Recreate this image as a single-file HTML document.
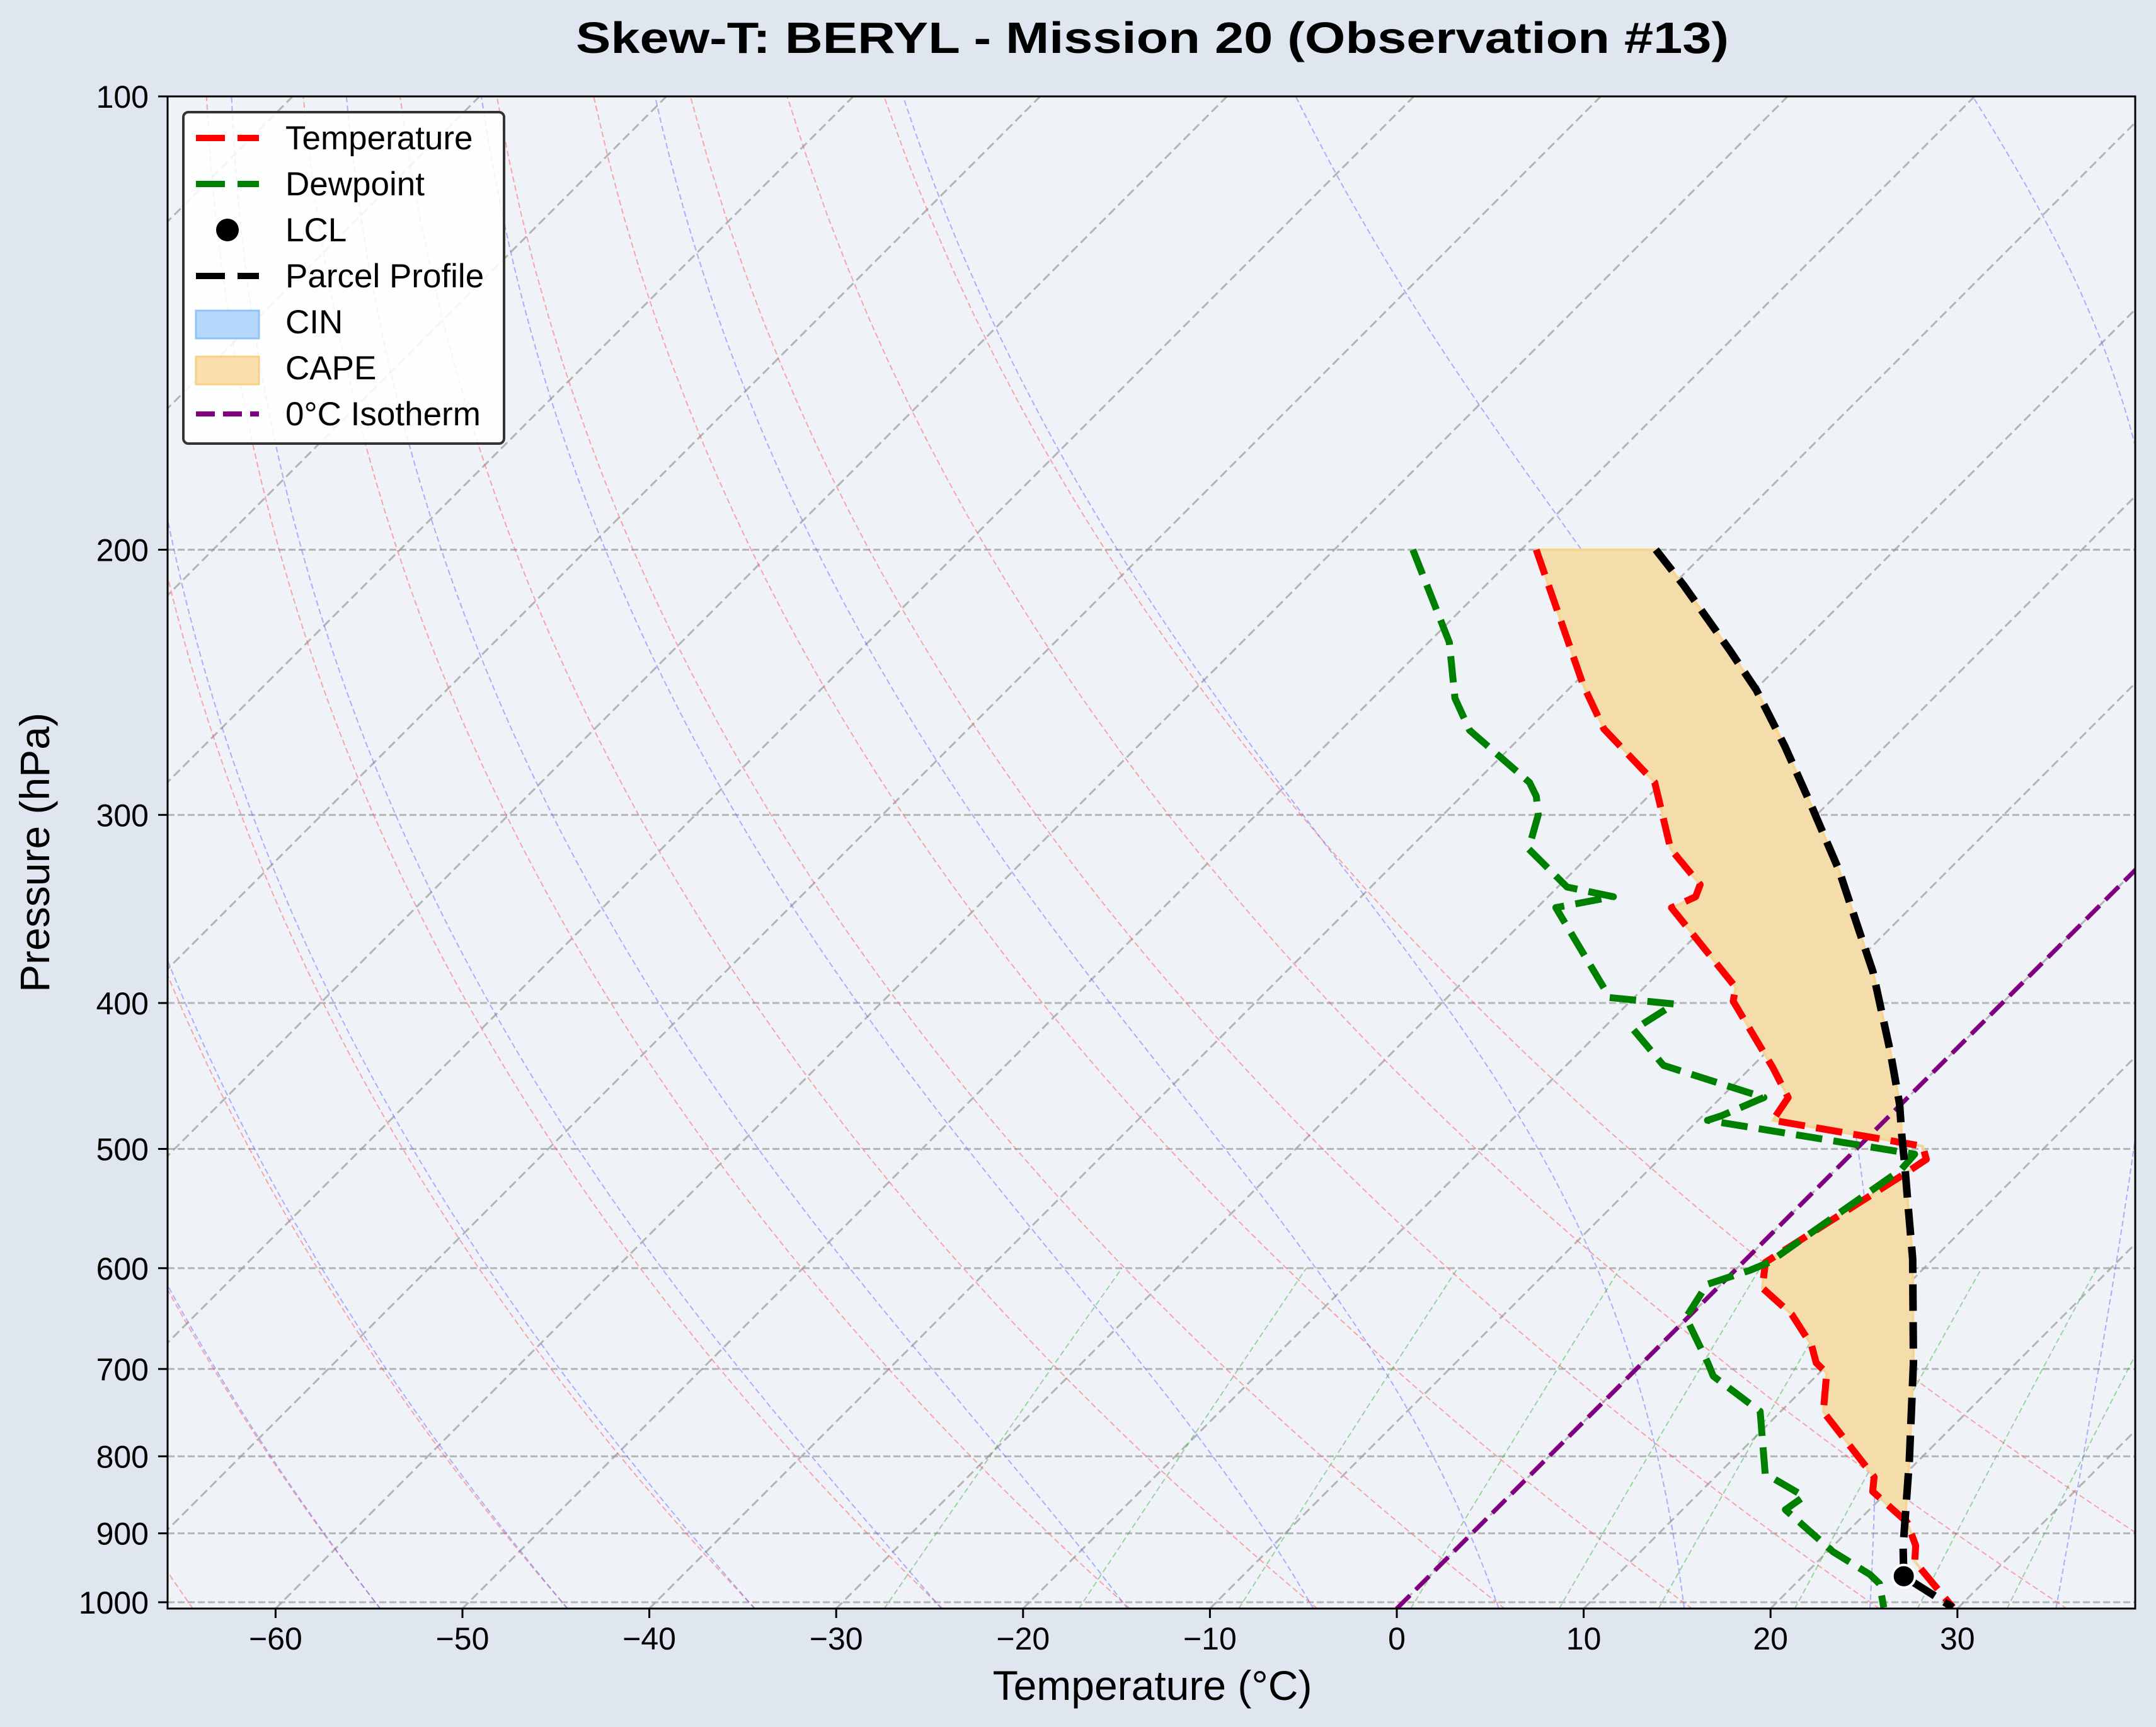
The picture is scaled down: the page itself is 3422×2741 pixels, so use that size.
<!DOCTYPE html>
<html><head><meta charset="utf-8"><style>
html,body{margin:0;padding:0;background:#dfe6f0;}
svg{display:block;font-family:"Liberation Sans",sans-serif;}
</style></head><body>
<svg id="chart" width="3422" height="2741" viewBox="0 0 3422 2741" xmlns="http://www.w3.org/2000/svg">
<rect x="0" y="0" width="3422" height="2741" fill="#dfe6f0"/>
<defs><clipPath id="pc"><rect x="266" y="153" width="3123" height="2400"/></clipPath></defs>
<rect x="266" y="153" width="3123" height="2400" fill="#eff3f8"/>
<g id="bg" clip-path="url(#pc)"></g>
<g id="fg" clip-path="url(#pc)"></g>
<rect x="266" y="153" width="3123" height="2400" fill="none" stroke="#000" stroke-width="3"/>
<g id="axes"></g>
<text x="1829" y="84" text-anchor="middle" font-size="70" font-weight="bold" textLength="1830" lengthAdjust="spacingAndGlyphs">Skew-T: BERYL - Mission 20 (Observation #13)</text>
<text x="1829" y="2698" text-anchor="middle" font-size="66">Temperature (°C)</text>
<text x="0" y="0" transform="translate(78,1353) rotate(-90)" text-anchor="middle" font-size="66">Pressure (hPa)</text>
<g>
<rect x="291" y="178" width="509" height="526" rx="8" fill="#fff" fill-opacity="0.85" stroke="#333" stroke-width="4"/>
<g><line x1="311" y1="219" x2="411" y2="219" stroke="#f00" stroke-width="10" stroke-dasharray="46,20"/><text x="453" y="237" font-size="53">Temperature</text></g>
<g><line x1="311" y1="292" x2="411" y2="292" stroke="#008000" stroke-width="10" stroke-dasharray="46,20"/><text x="453" y="310" font-size="53">Dewpoint</text></g>
<g><ellipse cx="361" cy="365" rx="18" ry="18" fill="#000"/><text x="453" y="383" font-size="53">LCL</text></g>
<g><line x1="311" y1="438" x2="411" y2="438" stroke="#000" stroke-width="10" stroke-dasharray="46,20"/><text x="453" y="456" font-size="53">Parcel Profile</text></g>
<g><rect x="311" y="493" width="100" height="44" fill="#b5d7fb" stroke="#8fc2f7" stroke-width="3"/><text x="453" y="529" font-size="53">CIN</text></g>
<g><rect x="311" y="566" width="100" height="44" fill="#fbe0ae" stroke="#f9cf85" stroke-width="3"/><text x="453" y="602" font-size="53">CAPE</text></g>
<g><line x1="311" y1="657" x2="411" y2="657" stroke="#800080" stroke-width="8" stroke-dasharray="30,13"/><text x="453" y="675" font-size="53">0°C Isotherm</text></g>
</g>
</svg>
<script>
// ---- data ----
const tempP = [200,245.7,263,285.5,316,333.8,340,345.8,390.6,398.9,441.7,462.2,478.6,497.9,508,519.8,594.6,618.4,644,675,693.5,704.3,747.4,825.6,844.2,885,917,939.6,1008];
const tempT = [-49.2,-39.5,-36.0,-30.4,-26.0,-22.5,-22.1,-22.8,-15.1,-14.5,-8.8,-6.4,-6.0,3.4,4.3,3.9,1.2,2.4,5.4,8.1,9.3,10.4,12.3,18.5,19.2,22.7,24.4,25.2,29.7];
const dewP = [200,230.4,251,263.6,285.5,291.6,300,316,335,340,345.7,396.7,400.6,416.7,440,462.2,475.3,478.6,504,516,594.6,602,615.5,622,647,693.5,707.7,747,821.6,850.6,868,925.6,958.5,972,1008];
const dewT = [-55.8,-48.9,-45.6,-43.1,-37.1,-36.0,-34.9,-33.6,-29.5,-26.5,-29.0,-21.3,-17.5,-18.3,-14.8,-7.7,-9.0,-9.5,3.4,3.5,1.4,0.8,-0.8,-0.6,-0.1,3.5,4.5,8.9,12.5,15.8,15.5,20.3,23.5,24.5,26.0];
const parcelP = [200,211.2,233.1,247.9,270,294.5,326.8,358.4,381.3,430.8,466.7,489.7,514.5,541,591.6,693.5,805,919,961,1008];
const parcelT = [-42.8,-39.4,-33.5,-29.9,-25.4,-21.0,-15.8,-11.5,-8.6,-3.4,-0.1,1.7,3.6,5.5,8.9,14.5,19.5,23.8,25.4,29.7];
const lclP = [961];
const lclT = [25.4];
const xTicks = [-60,-50,-40,-30,-20,-10,0,10,20,30];
const pTicks = [100,200,300,400,500,600,700,800,900,1000];
// ---- axes ----
const NS="http://www.w3.org/2000/svg";
const Y0=153, YH=2390, YB=2553, XL=266, XR=3389, SK=1.0;
function yP(p){return Y0+YH*Math.log10(p/100);}
function xTP(T,p){return 2217+T*29.66+SK*(YB-yP(p));}
function mk(tag,attrs,parent){const e=document.createElementNS(NS,tag);for(const k in attrs)e.setAttribute(k,attrs[k]);parent.appendChild(e);return e;}
function pathFrom(ps,ts){let d='';for(let i=0;i<ps.length;i++){d+=(i?'L':'M')+xTP(ts[i],ps[i]).toFixed(1)+','+yP(ps[i]).toFixed(1);}return d;}
const bg=document.getElementById('bg'), fg=document.getElementById('fg'), ax=document.getElementById('axes');
pTicks.forEach(p=>{if(p===100)return;const l=mk('line',{x1:XL,x2:XR,y1:yP(p),y2:yP(p),stroke:'#a0a0a0','stroke-opacity':'0.75','stroke-width':3,'stroke-dasharray':'11,5'},bg);

});
for(let T=-160;T<=40;T+=10){const l=mk('line',{x1:xTP(T,1010),y1:yP(1010),x2:xTP(T,100),y2:yP(100),stroke:'#999','stroke-opacity':'0.7','stroke-width':3,'stroke-dasharray':'14,7'},bg);

}
for(let t0=-95;t0<=45;t0+=10){const th=t0+273.15;let ps=[],ts=[];for(let p=1010;p>=99;p-=10){ps.push(p);ts.push(th*Math.pow(p/1000,0.2857)-273.15);}
const l=mk('path',{d:pathFrom(ps,ts),fill:'none',stroke:'#f55','stroke-opacity':'0.5','stroke-width':2,'stroke-dasharray':'9,5'},bg);

}
function es(Tc){return 6.112*Math.exp(17.67*Tc/(Tc+243.5));}
function dTdp(Tk,p){const e=es(Tk-273.15),rs=0.622*e/(p-e),Lv=2.5e6,Rd=287.04,Cp=1005.7;return (Rd*Tk+Lv*rs)/(p*(Cp+Lv*Lv*rs*0.622/(Rd*Tk*Tk)));}
for(let t0=-55;t0<=45;t0+=10){let Tk=t0+273.15;
let Tb=Tk+dTdp(Tk,1000)*10;let ps=[1010],ts=[Tb-273.15];
for(let p=1000;p>=100;p-=5){ps.push(p);ts.push(Tk-273.15);Tk-=dTdp(Tk,p)*5;}
const l=mk('path',{d:pathFrom(ps,ts),fill:'none',stroke:'#66f','stroke-opacity':'0.5','stroke-width':2,'stroke-dasharray':'9,5'},bg);

}
[0.0004,0.001,0.002,0.004,0.007,0.01,0.016,0.024,0.032].forEach(w=>{let ps=[],ts=[];for(let p=1010;p>=600;p-=10){const e=w*p/(0.622+w);const a=Math.log(e/6.112);ps.push(p);ts.push(243.5*a/(17.67-a));}
const l=mk('path',{d:pathFrom(ps,ts),fill:'none',stroke:'#3a3','stroke-opacity':'0.45','stroke-width':2,'stroke-dasharray':'9,5'},bg);

});
function interp(P,T,p){for(let i=0;i<P.length-1;i++){if(p>=P[i]&&p<=P[i+1]){const f=Math.log(p/P[i])/Math.log(P[i+1]/P[i]);return T[i]+f*(T[i+1]-T[i]);}}return null;}
{let grid=[];for(let p=200;p<=950;p+=1)grid.push(p);tempP.forEach(p=>{if(p>=200&&p<=950)grid.push(p);});parcelP.forEach(p=>{if(p>=200&&p<=950)grid.push(p);});grid.sort((a,b)=>a-b);
let fw='',bw=[];grid.forEach((p,i)=>{const t=interp(tempP,tempT,p),pc=interp(parcelP,parcelT,p);const up=Math.max(t,pc);fw+=(i?'L':'M')+xTP(t,p).toFixed(1)+','+yP(p).toFixed(1);bw.push('L'+xTP(up,p).toFixed(1)+','+yP(p).toFixed(1));});
const c=mk('path',{d:fw+bw.reverse().join('')+'Z',fill:'#f5dcab',stroke:'#f8d490','stroke-width':4},fg);

}
{const l=mk('line',{x1:xTP(0,1010),y1:yP(1010),x2:xTP(0,100),y2:yP(100),stroke:'#800080','stroke-width':7,'stroke-dasharray':'30,13'},fg);

}
{const l=mk('path',{d:pathFrom(tempP,tempT),fill:'none',stroke:'#f00','stroke-width':11,'stroke-dasharray':'42,18','stroke-linejoin':'round'},fg);

}
{const l=mk('path',{d:pathFrom(dewP,dewT),fill:'none',stroke:'#008000','stroke-width':11,'stroke-dasharray':'42,18','stroke-linejoin':'round'},fg);

}
{const l=mk('path',{d:pathFrom(parcelP,parcelT),fill:'none',stroke:'#000','stroke-width':12,'stroke-dasharray':'42,18'},fg);

}
lclP.forEach((p,i)=>{const c=mk('circle',{cx:xTP(lclT[i],p),cy:yP(p),r:18,fill:'#000',stroke:'#fff','stroke-width':4},fg);

});
xTicks.forEach(t=>{const x=2217+t*29.66;const l=mk('line',{x1:x,x2:x,y1:YB,y2:YB+15,stroke:'#000','stroke-width':3},ax);


const tx=mk('text',{x:x,y:2618,'text-anchor':'middle','font-size':50},ax);tx.textContent=(t<0?'\u2212':'')+Math.abs(t);

});
pTicks.forEach(p=>{const y=yP(p);const l=mk('line',{x1:XL-15,x2:XL,y1:y,y2:y,stroke:'#000','stroke-width':3},ax);


const tx=mk('text',{x:236,y:y+18,'text-anchor':'end','font-size':50},ax);tx.textContent=p;

});
</script>
</body></html>
